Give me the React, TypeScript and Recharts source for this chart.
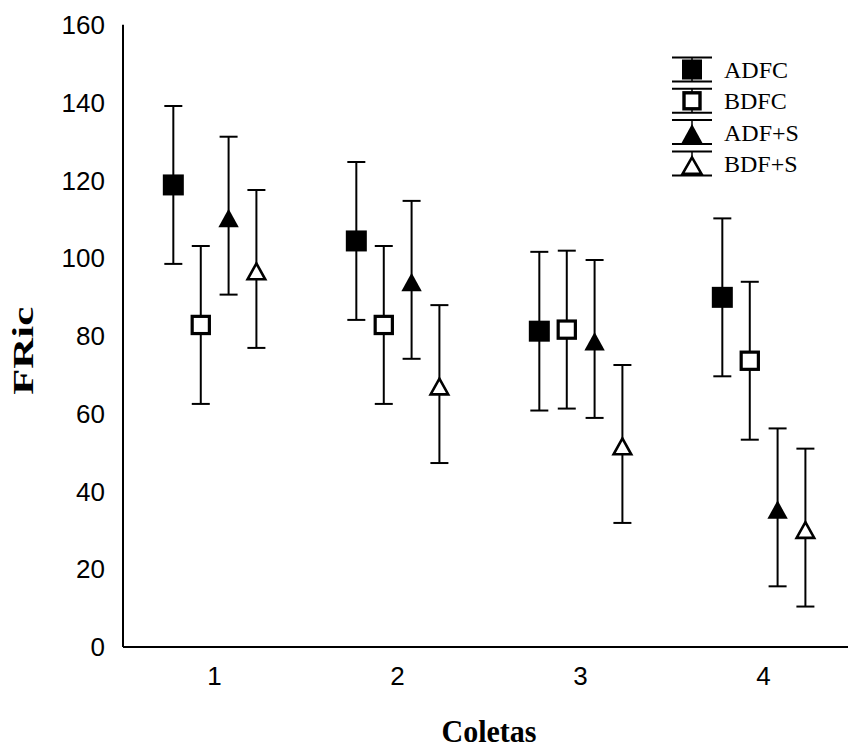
import React from 'react';
import { ScatterChart, Scatter, XAxis, YAxis, ErrorBar, Legend, Label } from 'recharts';

// ---- data ----
const coletas = [1, 2, 3, 4];
const yTicks = [0, 20, 40, 60, 80, 100, 120, 140, 160];
const seriesNames = ['ADFC', 'BDFC', 'ADF+S', 'BDF+S'];
const seriesOffsets = [-0.225, -0.075, 0.077, 0.229];
const adfcMean = [118.8, 104.4, 81.2, 89.9];
const adfcErr = [20.3, 20.3, 20.4, 20.3];
const bdfcMean = [82.8, 82.8, 81.6, 73.6];
const bdfcErr = [20.3, 20.3, 20.3, 20.3];
const adfsMean = [110.9, 94.4, 79.2, 35.9];
const adfsErr = [20.3, 20.3, 20.3, 20.3];
const bdfsMean = [97.2, 67.6, 52.2, 30.7];
const bdfsErr = [20.3, 20.3, 20.3, 20.3];

const means = [adfcMean, bdfcMean, adfsMean, bdfsMean];
const errs = [adfcErr, bdfcErr, adfsErr, bdfsErr];

const seriesData = seriesNames.map((name, s) =>
  coletas.map((c, i) => ({ x: c + seriesOffsets[s], y: means[s][i], err: errs[s][i] }))
);

// ---- marker shapes ----
const FilledSquare = (p: any) => (
  <rect x={p.cx - 10.5} y={p.cy - 10.5} width={21} height={21} fill="#000" />
);
const OpenSquare = (p: any) => (
  <rect x={p.cx - 8.6} y={p.cy - 8.6} width={17.2} height={17.2} fill="#fff" stroke="#000" strokeWidth={3.2} />
);
const FilledTri = (p: any) => {
  const c = p.cy + 2.5;
  return <polygon points={`${p.cx},${c - 9.5} ${p.cx + 10.2},${c + 9} ${p.cx - 10.2},${c + 9}`} fill="#000" />;
};
const OpenTri = (p: any) => {
  const c = p.cy + 2.5;
  return (
    <polygon
      points={`${p.cx},${c - 8} ${p.cx + 8.8},${c + 7.8} ${p.cx - 8.8},${c + 7.8}`}
      fill="#fff"
      stroke="#000"
      strokeWidth={2.6}
      strokeLinejoin="miter"
    />
  );
};
const shapes = [FilledSquare, OpenSquare, FilledTri, OpenTri];

// ---- top axis inward ticks ----
const TopTick = (p: any) => (
  <line x1={p.x} y1={p.y} x2={p.x} y2={p.y + 5} stroke="#000" strokeWidth={1.5} />
);

// ---- legend ----
const renderLegend = () => (
  <svg width={170} height={135} style={{ display: 'block' }}>
    {seriesNames.map((name, i) => {
      const top = 7.5 + i * 31.3;
      const bot = top + 24;
      const mid = (top + bot) / 2;
      const cx = 24;
      let marker: any = null;
      if (i === 0) marker = <rect x={cx - 10} y={top + 2} width={20} height={20} fill="#000" />;
      if (i === 1) marker = <rect x={cx - 8} y={top + 4} width={16} height={16} fill="#fff" stroke="#000" strokeWidth={3.4} />;
      if (i === 2) marker = <polygon points={`${cx},${top + 4} ${cx + 11},${bot} ${cx - 11},${bot}`} fill="#000" />;
      if (i === 3)
        marker = (
          <polygon
            points={`${cx},${top + 6} ${cx + 9.5},${bot - 1.5} ${cx - 9.5},${bot - 1.5}`}
            fill="#fff"
            stroke="#000"
            strokeWidth={2.6}
          />
        );
      return (
        <g key={name}>
          <line x1={cx} y1={top} x2={cx} y2={bot} stroke="#000" strokeWidth={1.5} />
          <line x1={4} y1={top} x2={44} y2={top} stroke="#000" strokeWidth={2} />
          <line x1={4} y1={bot} x2={44} y2={bot} stroke="#000" strokeWidth={2} />
          {marker}
          <text x={56} y={mid + 8.5} fontFamily="'Liberation Serif', 'Times New Roman', serif" fontSize={24} fill="#000">
            {name}
          </text>
        </g>
      );
    })}
  </svg>
);

const YTitle = (p: any) => {
  const vb = p.viewBox || { x: 0, y: 0, width: 0, height: 0 };
  const cx = 33;
  const cy = vb.y + vb.height / 2 + 15;
  return (
    <text
      x={cx}
      y={cy}
      transform={`rotate(-90, ${cx}, ${cy})`}
      textAnchor="middle"
      fontFamily="'Liberation Serif', 'Times New Roman', serif"
      fontWeight="bold"
      fontSize={30}
      textLength={88}
      lengthAdjust="spacingAndGlyphs"
      fill="#000"
    >
      FRic
    </text>
  );
};

const XTitle = (p: any) => {
  const vb = p.viewBox || { x: 0, y: 0, width: 0, height: 0 };
  const cx = vb.x + vb.width / 2;
  return (
    <text
      x={cx}
      y={742}
      textAnchor="middle"
      fontFamily="'Liberation Serif', 'Times New Roman', serif"
      fontWeight="bold"
      fontSize={31}
      textLength={95}
      lengthAdjust="spacingAndGlyphs"
      fill="#000"
    >
      Coletas
    </text>
  );
};

const tickStyle = { fill: '#000', fontSize: 26, fontFamily: "'Liberation Sans', Arial, sans-serif" };

export default function App() {
  return (
    <div style={{ position: 'absolute', left: 0, top: 0, width: 848, height: 749, overflow: 'hidden', background: '#fff' }}>
      <ScatterChart width={860} height={749} margin={{ top: 24.7, right: 5, bottom: 0, left: 0 }}>
        <XAxis
          xAxisId="bottom"
          type="number"
          dataKey="x"
          domain={[0.5, 4.5]}
          ticks={coletas}
          height={102}
          axisLine={{ stroke: '#000', strokeWidth: 2 }}
          tickLine={false}
          tickSize={0}
          tickMargin={20}
          tick={tickStyle}
          allowDataOverflow
        >
          <Label content={XTitle} />
        </XAxis>
        <XAxis
          xAxisId="top"
          orientation="top"
          type="number"
          dataKey="x"
          domain={[0.5, 4.5]}
          ticks={coletas}
          height={0}
          axisLine={{ stroke: '#000', strokeWidth: 2 }}
          tickLine={false}
          tickSize={0}
          tickMargin={0}
          tick={TopTick}
          allowDataOverflow
        />
        <YAxis
          type="number"
          dataKey="y"
          domain={[0, 160]}
          ticks={yTicks}
          width={123}
          axisLine={{ stroke: '#000', strokeWidth: 2 }}
          tickLine={false}
          tickSize={0}
          tickMargin={18}
          tick={tickStyle}
          allowDataOverflow
        >
          <Label content={YTitle} />
        </YAxis>
        <Legend
          layout="vertical"
          align="center"
          verticalAlign="middle"
          content={renderLegend}
          wrapperStyle={{ position: 'absolute', top: 50, left: 668, width: 170, height: 135 }}
        />
        {seriesNames.map((name, s) => (
          <Scatter
            key={name}
            name={name}
            xAxisId="bottom"
            data={seriesData[s]}
            fill="#000"
            shape={shapes[s]}
            isAnimationActive={false}
          >
            <ErrorBar dataKey="err" direction="y" width={9} stroke="#000" strokeWidth={2} />
          </Scatter>
        ))}
      </ScatterChart>
    </div>
  );
}
